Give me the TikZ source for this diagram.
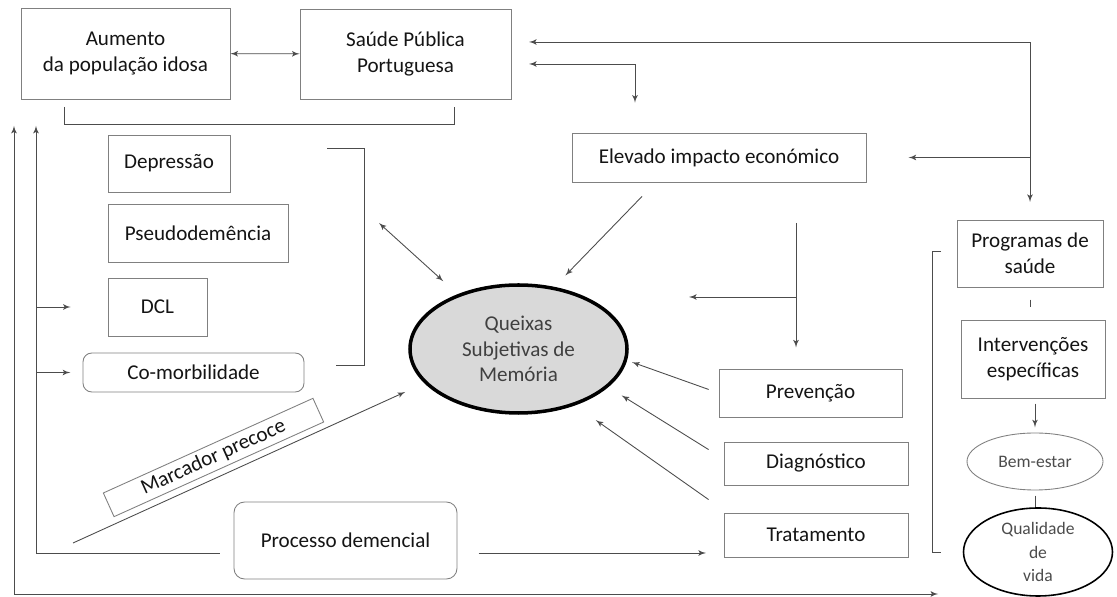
\documentclass[tikz,border=0pt]{standalone}
\usepackage{fontspec}
\setmainfont{Carlito}
\usetikzlibrary{arrows}
\usetikzlibrary{calc}
\usetikzlibrary{shapes.geometric}
\definecolor{mline}{gray}{0.3}
\definecolor{mbox}{gray}{0.5}
\definecolor{mtext}{gray}{0.08}
\definecolor{mfill}{gray}{0.85}
\tikzset{box/.style 2 args = {draw=mbox, line width=0.5pt, text=mtext, align=center,
                              inner sep=0pt, minimum width=#1*0.02cm, minimum height=#2*0.02cm,
                              font=\fontsize{12}{14.7}\selectfont}}
\tikzset{rbox/.style 2 args = {box={#1}{#2}, rounded corners=5pt}}
\tikzset{oval/.style 2 args = {ellipse, align=center, inner sep=0pt,
                               minimum width=#1*0.02cm, minimum height=#2*0.02cm}}
\tikzset{link/.style = {draw=mline, line width=0.5pt}}

\begin{document}
\begin{tikzpicture}[x=0.02cm, y=-0.02cm, >=latex']
    \useasboundingbox (0,0) rectangle (1117,597);

    % top row
    \node [box={209}{91}] (aumento) at (125.5,53.5) {Aumento\\da população idosa};
    \node [box={211}{90}] (saude) at (405.5,54) {Saúde Pública\\Portuguesa};
    \node [box={294}{49}] (elevado) at (719,157.5) {Elevado impacto económico};

    % left column
    \node [box={122}{57}] (depressao) at (169,163.5) {Depressão};
    \node [box={180}{58}] (pseudo) at (198,233) {Pseudodemência};
    \node [box={99}{58}] (dcl) at (157.5,307) {DCL};
    \node [rbox={221}{39}] (comorb) at (193.5,372.5) {Co-morbilidade};
    \node [rbox={223}{77}, rounded corners=6pt] (processo) at (345.5,540.5) {Processo demencial};
    \node [box={230}{26}, rotate=24.3] (marcador) at (213.5,457.5) {Marcador precoce};

    % centre
    \node [oval={217}{128}, draw=black, line width=2pt, fill=mfill, text=black!75,
           font=\fontsize{12}{14.7}\selectfont] (queixas) at (518.5,349) {Queixas\\Subjetivas de\\Memória};

    % right
    \node [box={183}{48}] (prevencao) at (810.5,393) {Prevenção};
    \node [box={184}{43}] (diagnostico) at (816,463.5) {Diagnóstico};
    \node [box={184}{44}] (tratamento) at (816,535) {Tratamento};
    \node [box={146}{67}] (programas) at (1030,253.5) {Programas de\\saúde};
    \node [box={144}{78}] (intervencoes) at (1033,359) {Intervenções\\específicas};
    \node [oval={136}{57}, draw=mbox, line width=0.5pt, text=black!70,
           font=\fontsize{10}{13.6}\selectfont] (bemestar) at (1035,461.5) {Bem-estar};
    \node [oval={149}{88}, draw=black, line width=0.9pt, text=black!70, inner ysep=-3pt,
           font=\fontsize{10}{13.6}\selectfont] (qualidade) at (1038,552) {Qualidade\\de\\vida};

    \coordinate (grp) at (379,223);
    \coordinate (drop) at (796,223);
    \coordinate (fork) at (796,297);
    \coordinate (forktip) at (689,297);
    \coordinate (mstart) at (73,543);

    % brackets
    \draw [link] (64,107) |- (454,124) -- (454,107);
    \draw [link] (327,148) -| (364,365) -- (336,365);
    \draw [link] (941,251) -| (932,552) -- (941,552);

    \draw [link, <->] (aumento) -- (saude);
    \draw [link, <->, shorten <=10pt, shorten >=10pt] (saude.east |- 0,42) -| (programas.north);
    \draw [link, <->, shorten <=10pt, shorten >=17pt] (saude.east |- 0,64) -| (elevado.north -| 635,0);
    \draw [link, ->, shorten >=24pt] (elevado.east -| programas.north) -- (elevado.east);

    % left side
    \draw [link, <->, shorten <=15pt, shorten >=14pt] (aumento.south -| 14,0) |- (qualidade.west |- 0,594);
    \draw [link, ->, shorten <=8pt, shorten >=15pt] (processo.west |- 0,553) -| (aumento.south -| 36,0);
    \draw [link, ->, shorten >=21pt] (dcl.west -| 36,0) -- (dcl.west);
    \draw [link, ->, shorten >=7pt] (comorb.west -| 36,0) -- (comorb.west);

    % into the centre
    \draw [link, <->, shorten >=11pt] (grp) -- (queixas.138);
    \draw [link, ->, shorten >=9pt] ($(elevado.south)+(-77,14)$) -- (queixas.60);
    \draw [link, ->, shorten >=12pt] (mstart) -- (queixas.200);
    \draw [link, ->, shorten <=6pt, shorten >=3pt] (prevencao.west) -- (queixas.-6);
    \draw [link, ->, shorten >=9pt] ($(diagnostico.north west)+(-15,8)$) -- (queixas.-23);
    \draw [link, ->, shorten >=14.5pt] ($(tratamento.north west)+(-15,-13)$) -- (queixas.-45);

    \draw [link, ->, shorten >=12pt] (drop) -- (prevencao.north -| drop);
    \draw [link, ->] (fork) -- (forktip);
    \draw [link, ->, shorten <=12pt, shorten >=10pt] (processo.east |- 0,553) -- (tratamento.west |- 0,553);

    % right column
    \draw [link, shorten <=7pt, shorten >=7pt] (programas.south) -- (programas.south |- intervencoes.north);
    \draw [link, ->, shorten <=3pt, shorten >=3pt] (intervencoes.south -| bemestar.north) -- (bemestar.north);
    \draw [link, shorten <=3pt] (bemestar.south) -- (bemestar.south |- qualidade.north);
\end{tikzpicture}
\end{document}
